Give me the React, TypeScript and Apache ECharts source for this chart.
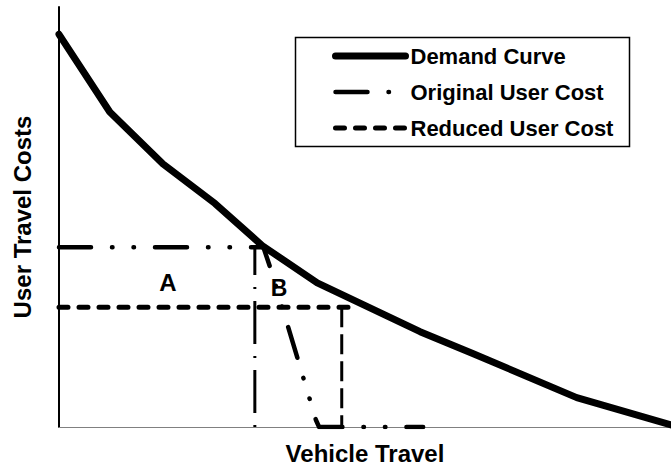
import React, { useEffect, useRef } from "react";
import * as echarts from "echarts";

const FONT = "'Liberation Sans', Arial, Helvetica, sans-serif";

// Demand curve (x: vehicle travel, y: user travel cost), arbitrary units 0-100
const demandX = [0, 8.3, 17.0, 25.5, 33.2, 42.2, 59.0, 67.6, 84.6, 100];
const demandY = [93.5, 75.0, 62.6, 53.2, 43.2, 34.3, 22.7, 17.5, 7.0, 0.5];

// Original user cost curve
const origX = [0, 33.4, 34.8, 42.0, 42.5, 59.5];
const origY = [42.8, 42.8, 36.7, 1.6, 0, 0];

// Drop line from the original equilibrium
const origDropX = [32.0, 32.0];
const origDropY = [0, 42.8];

// Reduced user cost level
const reducedX = [0, 48.7];
const reducedY = [28.5, 28.5];

// Drop line from the new equilibrium
const reducedDropX = [46.2, 46.2];
const reducedDropY = [28.5, 0];

const legendNames = ["Demand Curve", "Original User Cost", "Reduced User Cost"];
const areaLabels = ["A", "B"];

const zip = (xs: number[], ys: number[]) => xs.map((x, i) => [x, ys[i]]);

export default function App() {
  const ref = useRef<HTMLDivElement>(null);
  useEffect(() => {
    if (!ref.current) return;
    const chart = echarts.init(ref.current, null, { renderer: "svg" });
    const dashDotDot = [32, 21, 0.5, 21, 0.5, 21];
    chart.setOption({
      animation: false,
      backgroundColor: "#ffffff",
      grid: { left: 59, right: 0, top: 7, bottom: 35 },
      xAxis: {
        type: "value",
        min: 0,
        max: 100,
        name: "Vehicle Travel",
        nameLocation: "middle",
        nameGap: 14,
        nameTextStyle: { fontFamily: FONT, fontWeight: "bold", fontSize: 24, color: "#000", verticalAlign: "top" },
        axisLine: { show: true, lineStyle: { color: "#808080", width: 1 } },
        axisTick: { show: false },
        axisLabel: { show: false },
        splitLine: { show: false },
      },
      yAxis: {
        type: "value",
        min: 0,
        max: 100,
        name: "User Travel Costs",
        nameLocation: "middle",
        nameGap: 25,
        nameTextStyle: { fontFamily: FONT, fontWeight: "bold", fontSize: 24, color: "#000" },
        axisLine: { show: true, lineStyle: { color: "#000", width: 2 } },
        axisTick: { show: false },
        axisLabel: { show: false },
        splitLine: { show: false },
      },
      legend: {
        orient: "vertical",
        left: 332,
        top: 44,
        padding: 0,
        itemWidth: 70,
        itemHeight: 14,
        itemGap: 12,
        selectedMode: false,
        itemStyle: { opacity: 0 },
        textStyle: { fontFamily: FONT, fontWeight: "bold", fontSize: 22, color: "#000", lineHeight: 24 },
        data: [
          { name: legendNames[0], lineStyle: { width: 7 } },
          { name: legendNames[1], lineStyle: { width: 4.5 } },
          { name: legendNames[2], lineStyle: { width: 5 } },
        ],
      },
      graphic: [
        {
          type: "rect",
          left: 293,
          top: 35,
          shape: { width: 334, height: 109 },
          style: { fill: "none", stroke: "#000", lineWidth: 1.5 },
          z: 10,
        },
        {
          type: "text",
          x: 168,
          y: 282,
          style: { text: areaLabels[0], fontFamily: FONT, fontWeight: "bold", fontSize: 24, fill: "#000", align: "center", verticalAlign: "middle" },
        },
        {
          type: "text",
          x: 279,
          y: 288,
          style: { text: areaLabels[1], fontFamily: FONT, fontWeight: "bold", fontSize: 23, fill: "#000", align: "center", verticalAlign: "middle" },
        },
      ],
      series: [
        {
          name: "_origDrop",
          type: "line",
          data: zip(origDropX, origDropY),
          symbol: "none",
          lineStyle: { color: "#000", width: 3, type: [2, 12, 43, 12], cap: "butt" },
          z: 2,
        },
        {
          name: "_reducedDrop",
          type: "line",
          data: zip(reducedDropX, reducedDropY),
          symbol: "none",
          lineStyle: { color: "#000", width: 3, type: [20, 7], cap: "butt" },
          z: 2,
        },
        {
          name: legendNames[2],
          type: "line",
          data: zip(reducedX, reducedY),
          symbol: "none",
          lineStyle: { color: "#000", width: 5, type: [9, 11], cap: "round" },
          z: 3,
        },
        {
          name: legendNames[1],
          type: "line",
          data: zip(origX, origY),
          symbol: "none",
          lineStyle: { color: "#000", width: 4.5, type: dashDotDot, cap: "round", join: "round" },
          z: 3,
        },
        {
          name: legendNames[0],
          type: "line",
          data: zip(demandX, demandY),
          symbol: "none",
          lineStyle: { color: "#000", width: 7, cap: "round", join: "round" },
          z: 4,
        },
      ],
    });
    return () => chart.dispose();
  }, []);
  return (
    <div
      ref={ref}
      style={{ position: "fixed", left: 0, top: 0, width: 671, height: 470, background: "#fff" }}
    />
  );
}
